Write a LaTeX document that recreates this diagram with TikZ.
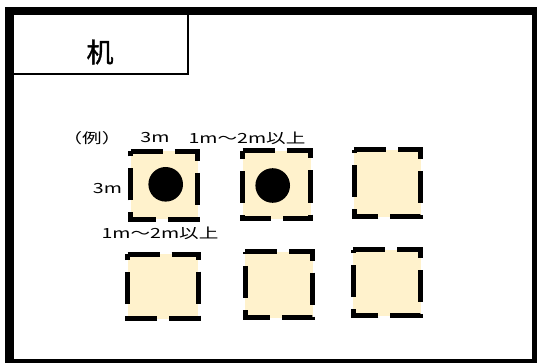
\documentclass[tikz,border=0pt]{standalone}
\usepackage{fontspec}
\usepackage{graphicx}
\newfontfamily\jpfont{Noto Sans CJK JP}
\newfontfamily\deskfont[FakeBold=1.2]{Noto Sans CJK JP}
\usetikzlibrary{positioning}
\definecolor{seatfill}{RGB}{255,242,204}
\tikzstyle{seat} = [line width=5pt, dash pattern=on 32pt off 12pt, fill=seatfill]
\tikzstyle{note} = [inner sep=0pt, font=\jpfont\fontsize{14}{16}\selectfont]
\newcommand{\widetext}[1]{\scalebox{1.4}[1]{#1}}

\begin{document}
\begin{tikzpicture}[x=1pt, y=-1pt]
\useasboundingbox (0,0) rectangle (537,363);

% Desk
\draw[line width=2pt] (9,11) rectangle (188,74);
\node[font=\deskfont\fontsize{27}{30}\selectfont] (desk) at (100,52) {机};

% Room frame
\draw[line width=8.5pt] (9.3,10.8) rectangle (536.5,363.3);

% Seats
\foreach \xa/\ya/\xb/\yb in {130.8/151.5/197.5/219.2, 242.5/150.8/310.8/218.5,
    354.2/149.8/420.8/216.8, 127.5/254.2/198.2/318.5,
    245.2/251.8/312.5/317.5, 353.2/249.8/420.8/315.8} {
    \draw[seat] (\xa,\ya) -- (\xb,\ya) -- (\xb,\yb) -- (\xa,\yb) -- cycle;
}

% Persons
\fill (165.7,184.3) circle (17.3);
\fill (272.7,185.5) circle (17.3);

% Labels
\node[note] (ex) at (92,138) {\widetext{（例）}};
\node[note] (wA) at (155,138) {\widetext{3m}};
\node[note] (gapA) at (247,138) {\widetext{1m～2m以上}};
\node[note] (wB) at (107.5,189) {\widetext{3m}};
\node[note] (gapB) at (160,233) {\widetext{1m～2m以上}};
\end{tikzpicture}
\end{document}
